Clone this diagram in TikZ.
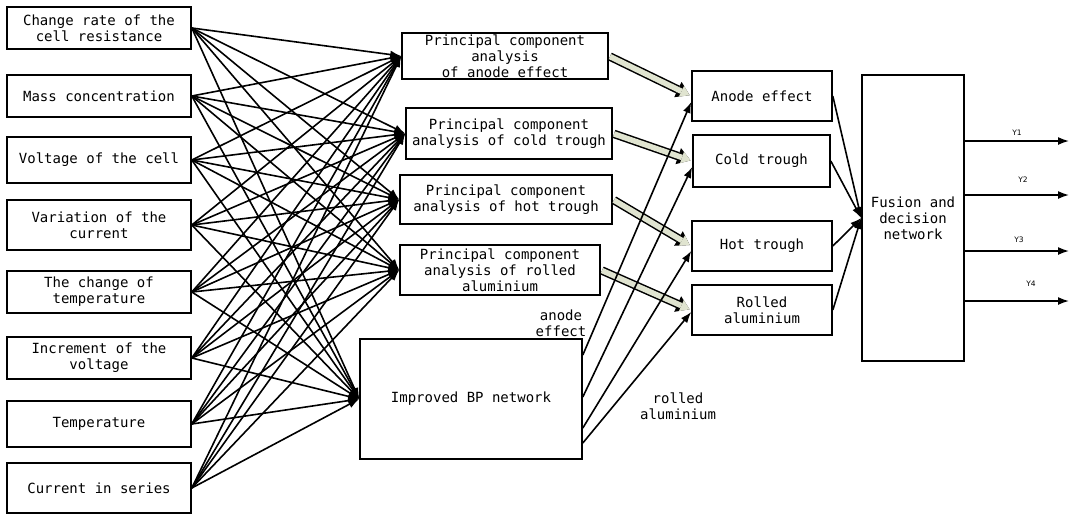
\documentclass[tikz,border=0pt]{standalone}
\usepackage{fontspec}
\newfontfamily\boxfont{DejaVu Sans Mono}
\newfontfamily\yfont{DejaVu Sans}
\usetikzlibrary{arrows.meta}
\definecolor{pcafill}{RGB}{224,228,208}

\begin{document}
\begin{tikzpicture}[x=1pt,y=-1pt,
  box/.style={draw, line width=1.6pt, inner sep=0pt, align=center, font=\boxfont\fontsize{14}{16}\selectfont},
  lbl/.style={align=center, font=\boxfont\fontsize{14}{16}\selectfont},
  conn/.style={line width=1.6pt, -{Latex[length=11pt,width=8pt]}},
  fat/.style={draw=pcafill, line width=5.5pt, shorten >=1.8pt, shorten <=1.3pt,
    -{Triangle[length=9pt,width=12pt,line width=0pt]},
    preaction={draw=black, line width=8.5pt, -{Triangle[length=13pt,width=17pt,line width=0pt]}}},
  outlbl/.style={font=\yfont\fontsize{7.5}{9}\selectfont}]
\useasboundingbox (0,0) rectangle (1070,515);

% inputs
\node[box, minimum width=184, minimum height=42] (in1) at (99,28) {Change rate of the\\cell resistance};
\node[box, minimum width=184, minimum height=42] (in2) at (99,96) {Mass concentration};
\node[box, minimum width=184, minimum height=46] (in3) at (99,160) {Voltage of the cell};
\node[box, minimum width=184, minimum height=50] (in4) at (99,225) {Variation of the\\current};
\node[box, minimum width=184, minimum height=42] (in5) at (99,292) {The change of\\temperature};
\node[box, minimum width=184, minimum height=42] (in6) at (99,358) {Increment of the\\voltage};
\node[box, minimum width=184, minimum height=46] (in7) at (99,424) {Temperature};
\node[box, minimum width=184, minimum height=50] (in8) at (99,488) {Current in series};

% principal component analysis
\node[box, minimum width=206, minimum height=46] (pca1) at (505,56) {Principal component\\analysis\\of anode effect};
\node[box, minimum width=206, minimum height=51] (pca2) at (509,133.5) {Principal component\\analysis of cold trough};
\node[box, minimum width=212, minimum height=49] (pca3) at (506,199.5) {Principal component\\analysis of hot trough};
\node[box, minimum width=200, minimum height=50] (pca4) at (500,270) {Principal component\\analysis of rolled\\aluminium};
\node[box, minimum width=222, minimum height=120] (bp) at (471,399) {Improved BP network};

% faults
\node[box, minimum width=140, minimum height=50] (ae) at (762,96) {Anode effect};
\node[box, minimum width=137, minimum height=52] (ct) at (761.5,161) {Cold trough};
\node[box, minimum width=140, minimum height=50] (ht) at (762,246) {Hot trough};
\node[box, minimum width=140, minimum height=50] (ra) at (762,310) {Rolled\\aluminium};
\node[box, minimum width=102, minimum height=286] (fus) at (913,218) {Fusion and\\decision\\network};

\node[lbl] (lae) at (561,323) {anode\\effect};
\node[lbl] (lra) at (678,406) {rolled\\aluminium};

% full connection
\path[conn] (in1.east) edge (pca1.west) edge (pca2.west) edge (pca3.west) edge (pca4.west) edge (bp.west);
\path[conn] (in2.east) edge (pca1.west) edge (pca2.west) edge (pca3.west) edge (pca4.west) edge (bp.west);
\path[conn] (in3.east) edge (pca1.west) edge (pca2.west) edge (pca3.west) edge (pca4.west) edge (bp.west);
\path[conn] (in4.east) edge (pca1.west) edge (pca2.west) edge (pca3.west) edge (pca4.west) edge (bp.west);
\path[conn] (in5.east) edge (pca1.west) edge (pca2.west) edge (pca3.west) edge (pca4.west) edge (bp.west);
\path[conn] (in6.east) edge (pca1.west) edge (pca2.west) edge (pca3.west) edge (pca4.west) edge (bp.west);
\path[conn] (in7.east) edge (pca1.west) edge (pca2.west) edge (pca3.west) edge (pca4.west) edge (bp.west);
\path[conn] (in8.east) edge (pca1.west) edge (pca2.west) edge (pca3.west) edge (pca4.west) edge (bp.west);

% pca to faults
\draw[fat] (pca1.east) -- (ae.west);
\draw[fat] (pca2.east) -- (ct.west);
\draw[fat] (pca3.east) -- (ht.west);
\draw[fat] (pca4.east) -- (ra.west);

% bp to faults
\draw[conn] ([yshift=44pt]bp.east) -- ([yshift=-6pt]ae.west);
\draw[conn] ([yshift=2pt]bp.east) -- ([yshift=-6pt]ct.west);
\draw[conn] ([yshift=-29pt]bp.east) -- ([yshift=-5pt]ht.west);
\draw[conn] ([yshift=-44pt]bp.east) -- ([yshift=-2pt]ra.west);

% faults to fusion
\draw[conn] (ae.east) -- (fus.west);
\draw[conn] (ct.east) -- (fus.west);
\draw[conn] (ht.east) -- (fus.west);
\draw[conn] (ra.east) -- (fus.west);

% outputs
\coordinate (o1) at (1069,141);
\coordinate (o2) at (1069,195);
\coordinate (o3) at (1069,251);
\coordinate (o4) at (1069,301);
\draw[conn] (fus.east |- o1) -- (o1);
\draw[conn] (fus.east |- o2) -- (o2);
\draw[conn] (fus.east |- o3) -- (o3);
\draw[conn] (fus.east |- o4) -- (o4);
\node[outlbl] (y1) at (1017,133) {Y1};
\node[outlbl] (y2) at (1023,180) {Y2};
\node[outlbl] (y3) at (1019,240) {Y3};
\node[outlbl] (y4) at (1031,284) {Y4};

\end{tikzpicture}
\end{document}
